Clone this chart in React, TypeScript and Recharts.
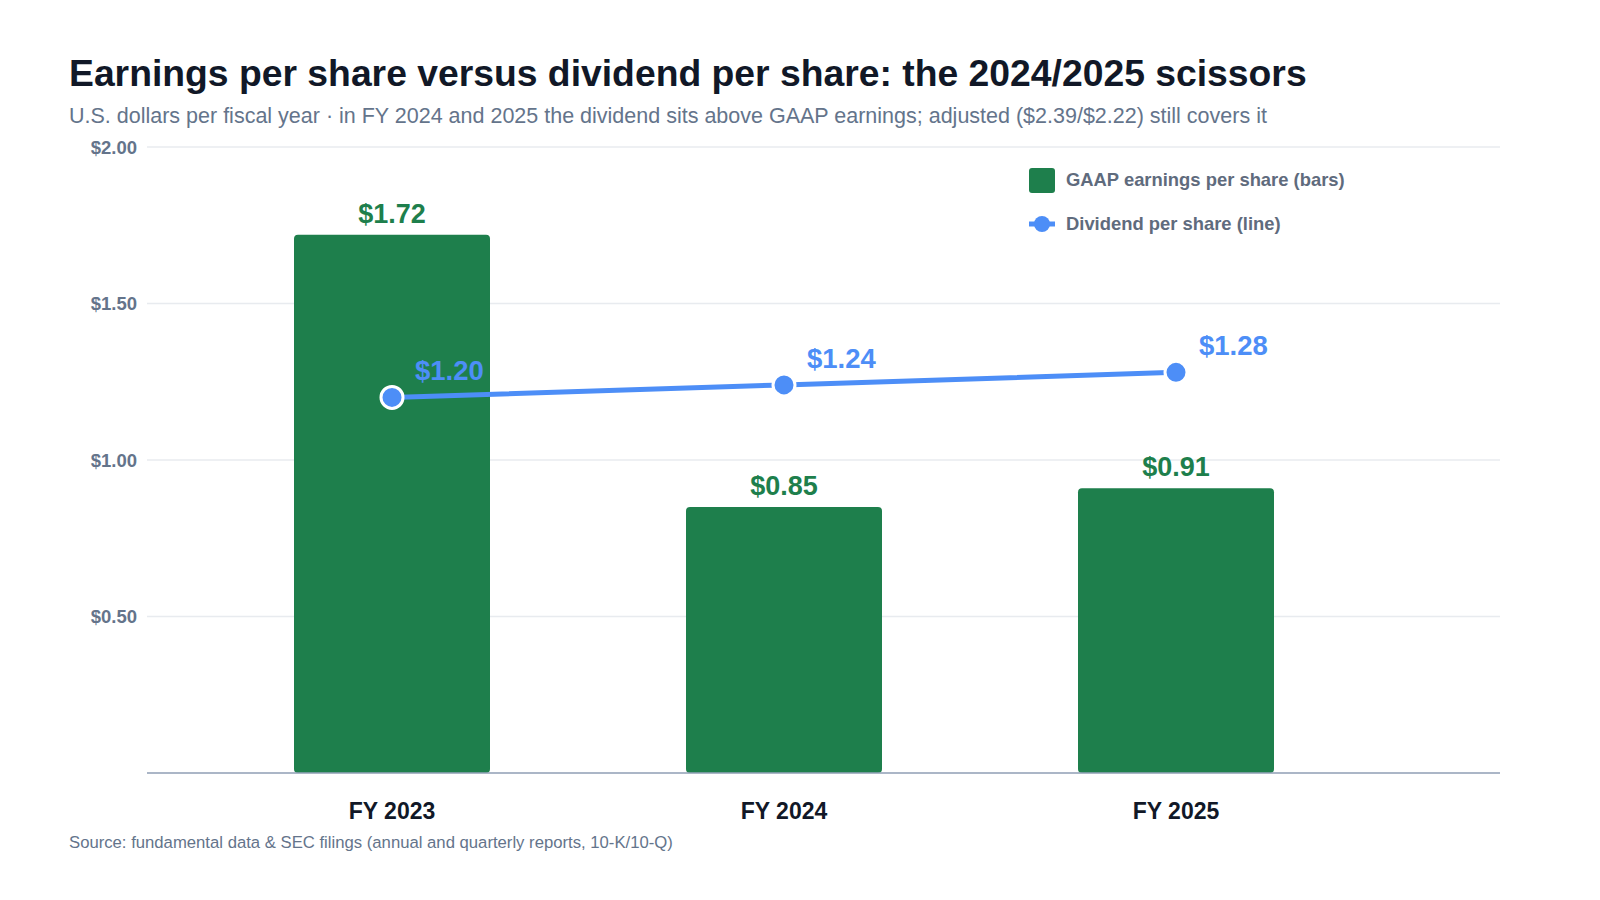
import React from 'react';
import { ComposedChart, Bar, Line, XAxis, YAxis, CartesianGrid, LabelList } from 'recharts';

const years = ['FY 2023', 'FY 2024', 'FY 2025'];
const gaapEps = [1.72, 0.85, 0.91];
const dividend = [1.2, 1.24, 1.28];
const yTicks = [0, 0.5, 1, 1.5, 2];

const GREEN = '#1e7f4c';
const BLUE = '#4d8ef7';
const MUTED = '#64748b';
const FONT = '"Liberation Sans", Arial, Helvetica, sans-serif';

const data = years.map((year, i) => ({ year, eps: gaapEps[i], div: dividend[i] }));

const money = (v: number) => `$${v.toFixed(2)}`;

const DivLabel = (props: any) => {
  const { x, y, value } = props;
  return (
    <text x={x + 23} y={y - 27} dy="0.35em" textAnchor="start" fill={BLUE} fontSize={27.5} fontWeight={700} fontFamily={FONT}>
      {money(value)}
    </text>
  );
};

const LegendBox = () => (
  <div style={{ position: 'absolute', left: 1029, top: 167, fontFamily: FONT, fontSize: 18.4, fontWeight: 700, color: '#5f6b7d', whiteSpace: 'nowrap' }}>
    <div style={{ display: 'flex', alignItems: 'center', height: 26 }}>
      <span style={{ width: 26, height: 25, background: GREEN, borderRadius: 3, marginRight: 11 }} />
      GAAP earnings per share (bars)
    </div>
    <div style={{ display: 'flex', alignItems: 'center', height: 26, marginTop: 18 }}>
      <svg width={26} height={18} style={{ marginRight: 11 }}>
        <line x1={0} y1={9} x2={26} y2={9} stroke={BLUE} strokeWidth={5} />
        <circle cx={13} cy={9} r={8} fill={BLUE} />
      </svg>
      Dividend per share (line)
    </div>
  </div>
);

export default function App() {
  return (
    <div style={{ position: 'absolute', left: 0, top: 0, width: 1600, height: 900, background: '#fff', fontFamily: FONT }}>
      <div style={{ position: 'absolute', left: 69, top: 52, fontSize: 37.3, fontWeight: 700, color: '#111827', whiteSpace: 'nowrap' }}>
        Earnings per share versus dividend per share: the 2024/2025 scissors
      </div>
      <div style={{ position: 'absolute', left: 69, top: 104, fontSize: 21.5, color: MUTED, whiteSpace: 'nowrap' }}>
        U.S. dollars per fiscal year · in FY 2024 and 2025 the dividend sits above GAAP earnings; adjusted ($2.39/$2.22) still covers it
      </div>
      <ComposedChart width={1600} height={900} data={data} margin={{ top: 147, right: 100, bottom: 87, left: 0 }}>
        <CartesianGrid vertical={false} stroke="#e8ebef" strokeWidth={1.5} />
        <XAxis
          dataKey="year"
          padding={{ left: 49, right: 128 }}
          height={40}
          tickSize={0}
          tickMargin={30}
          axisLine={{ stroke: '#94a3b8', strokeWidth: 1.5 }}
          tick={{ fill: '#111827', fontSize: 23, fontWeight: 700, fontFamily: FONT }}
        />
        <YAxis
          width={147}
          domain={[0, 2]}
          ticks={yTicks}
          tickFormatter={(v: number) => (v === 0 ? '' : money(v))}
          tickSize={0}
          tickMargin={10}
          axisLine={false}
          tick={{ fill: MUTED, fontSize: 18.5, fontWeight: 700, fontFamily: FONT }}
        />
        <Bar dataKey="eps" fill={GREEN} barSize={196} radius={4} isAnimationActive={false}>
          <LabelList dataKey="eps" position="top" offset={12} formatter={(v: number) => money(v)} fill={GREEN} fontSize={27} fontWeight={700} fontFamily={FONT} />
        </Bar>
        <Line
          dataKey="div"
          stroke={BLUE}
          strokeWidth={5}
          dot={{ r: 11, fill: BLUE, stroke: '#fff', strokeWidth: 3 }}
          isAnimationActive={false}
        >
          <LabelList dataKey="div" content={<DivLabel />} />
        </Line>
      </ComposedChart>
      <LegendBox />
      <div style={{ position: 'absolute', left: 69, top: 833, fontSize: 16.7, color: MUTED, whiteSpace: 'nowrap' }}>
        Source: fundamental data &amp; SEC filings (annual and quarterly reports, 10-K/10-Q)
      </div>
    </div>
  );
}
